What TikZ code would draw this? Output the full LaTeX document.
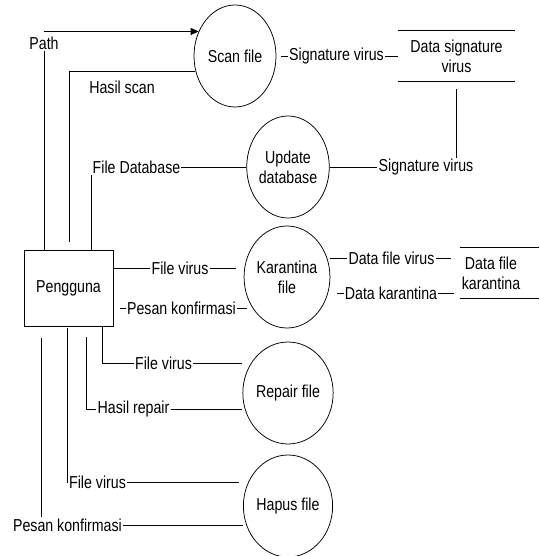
\documentclass[tikz,border=0pt]{standalone}
\usepackage{fontspec}
\setmainfont{Liberation Sans}[FakeStretch=0.82]
\usetikzlibrary{shapes.geometric,arrows.meta,calc}
\begin{document}
\begin{tikzpicture}[x=1pt,y=-1pt,
  every node/.style={font=\fontsize{17.3}{20}\selectfont},
  ln/.style={line width=0.75pt,black},
  proc/.style={ellipse,draw,ln,minimum width=82pt,minimum height=102pt,inner sep=0pt,align=center},
  lbl/.style={inner sep=1pt},
  store/.style={minimum height=50pt,inner sep=0pt,align=center},
  ]
\useasboundingbox (0,0) rectangle (539,556);
% entity and processes
\node[draw,ln,minimum width=89pt,minimum height=76pt,inner sep=0pt] (user) at (68.5,288) {Pengguna};
\node[proc] (scan) at (235,56) {Scan file};
\node[proc] (upd) at (288,167) {Update\\database};
\node[proc] (kar) at (287,277) {Karantina\\file};
\node[proc] (rep) at (288,393) {Repair file};
\node[proc] (hap) at (288,506) {Hapus file};
% data stores
\node[store,minimum width=117pt] (ds) at (456.5,56) {Data signature\\virus};
\draw[ln] (ds.north west) -- (ds.north east) (ds.south west) -- (ds.south east);
\node[store,minimum width=62pt] (dk) at (491,273) {Data file\\karantina};
\draw[ln] (dk.north west) -- ++(79,0) (dk.south west) -- ++(79,0);
% labels
\node[lbl] (path) at (44,43) {Path};
\node[lbl] (hs) at (122,87) {Hasil scan};
\node[lbl] (fdb) at (136.5,167) {File Database};
\node[lbl] (sv1) at (336.5,56) {Signature virus};
\node[lbl] (sv2) at (426,167) {Signature virus};
\node[lbl] (fv1) at (180,268) {File virus};
\node[lbl] (pk1) at (181.5,308) {Pesan konfirmasi};
\node[lbl] (dfv) at (391.5,258) {Data file virus};
\node[lbl] (dka) at (391,293) {Data karantina};
\node[lbl] (fv2) at (163.5,363) {File virus};
\node[lbl] (hr) at (133.5,409) {Hasil repair};
\node[lbl] (fv3) at (97.5,482) {File virus};
\node[lbl] (pk2) at (67.5,525) {Pesan konfirmasi};
% coordinates for free ends
\coordinate (pA) at (44,32);
\coordinate (hsA) at (69,242);
\coordinate (rA) at (102,0);
\coordinate (hrA) at (86,337);
\coordinate (hA) at (67,328);
\coordinate (hB) at (41,338);
% Path
\draw[ln] (user.north -| path) -- (path.south);
\draw[ln,-{Triangle[length=8pt,width=7pt]}] (scan.146.5 -| pA) -- (scan.146.5);
% Hasil scan
\draw[ln] (hsA) |- (scan.201);
% File Database
\draw[ln] (user.north -| fdb.west) -- (fdb.south west);
\draw[ln] (fdb.east) -- (upd.west);
% Signature virus
\draw[ln,shorten <=5pt] (scan.east) -- (sv1.west);
\draw[ln] (sv1.east) -- (ds.west);
\draw[ln] (upd.east) -- (sv2.west);
\draw[ln,shorten <=8pt] (ds.south) -- (ds.south |- sv2.north);
% Karantina
\draw[ln] (user.east |- fv1) -- (fv1.west);
\draw[ln,shorten >=8pt] (fv1.east) -- (kar.west |- fv1);
\draw[ln,shorten <=7pt] (user.east |- pk1) -- (pk1.west);
\draw[ln] (pk1.east) -- ($(kar.west |- pk1)+(3,0)$);
\draw[ln] (kar.east |- dfv) -- (dfv.west);
\draw[ln] (dfv.east) -- ($(dk.west |- dfv)+(-9,0)$);
\draw[ln] ($(kar.east |- dka)+(7,0)$) -- (dka.west);
\draw[ln] (dka.east) -- ($(dk.west |- dka)+(-6,0)$);
% Repair
\draw[ln] (user.south -| rA) |- (fv2.west);
\draw[ln] (fv2.east) -- (rep.west |- fv2);
\draw[ln] (hrA) |- (hr.west);
\draw[ln] (hr.east) -- (rep.west |- hr);
% Hapus
\draw[ln] (hA) |- (fv3.west);
\draw[ln] (fv3.east) -- ($(hap.west |- fv3)+(-4,0)$);
\draw[ln] (hB) -- (hB |- pk2.north);
\draw[ln] (pk2.east) -- (hap.west |- pk2);
\end{tikzpicture}
\end{document}
